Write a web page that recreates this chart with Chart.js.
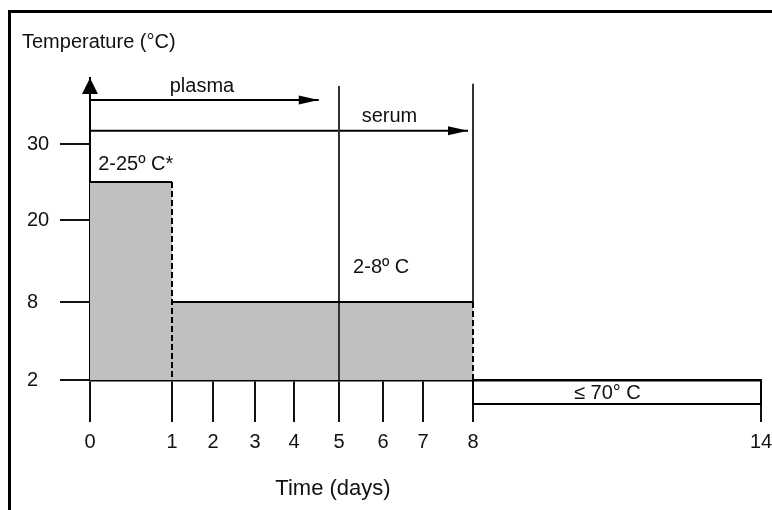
<!DOCTYPE html>
<html>
<head>
<meta charset="utf-8">
<title>Sample storage temperature</title>
<script src="https://cdn.jsdelivr.net/npm/chart.js@4.4.1/dist/chart.umd.min.js"></script>
<style>
  html, body { margin: 0; padding: 0; background: #fff; overflow: hidden; }
  #wrap { position: relative; width: 772px; height: 510px; }
  .frame { position: absolute; left: 8px; top: 10px; width: 800px; height: 540px; border-left: 3px solid #000; border-top: 3px solid #000; }
  canvas { position: absolute; left: 0; top: 0; }
</style>
</head>
<body>
<div id="wrap">
  <div class="frame"></div>
  <canvas id="storageChart" width="772" height="510"></canvas>
</div>
<script>
// axis ticks
const dayTicks = [0, 1, 2, 3, 4, 5, 6, 7, 8, 14];
const tempTicks = [2, 8, 20, 30];

// storage windows (days, °C)
const roomDays = [0, 1];
const roomTemps = [2, 25];
const fridgeDays = [1, 8];
const fridgeTemps = [2, 8];
const freezerDays = [8, 14];
const freezerTemps = [0.15, 2]; // schematic band under the 2 °C line

// how long plasma / serum keep (days) and the level of their arrows
const plasmaDays = [0, 4.55];
const serumDays = [0, 7.9];
const plasmaLevel = 36;
const serumLevel = 31.8;
const markerDays = [5, 8];
const markerTops = [37.9, 38.2];
const markerBottoms = [2, 8];

const windowLabels = ['2-25º C*', '2-8º C', '≤ 70° C'];

// the axes of the figure are not to scale, so each axis maps its values piecewise
const axisStops = {
  x: { values: dayTicks, fractions: [0, 0.1222, 0.1833, 0.2459, 0.3040, 0.3711, 0.4367, 0.4963, 0.5708, 1] },
  y: { values: [2, 8, 20, 30, 39], fractions: [0, 0.2583, 0.5298, 0.7815, 1] }
};

class PiecewiseScale extends Chart.LinearScale {
  static id = 'piecewise';
  static defaults = {};

  getPixelForValue(value) {
    if (value === null || value === undefined || isNaN(value)) return NaN;
    const { values, fractions } = axisStops[this.id];
    let i = 0;
    while (i < values.length - 2 && value > values[i + 1]) i++;
    const t = (value - values[i]) / (values[i + 1] - values[i]);
    return this.getPixelForDecimal(fractions[i] + t * (fractions[i + 1] - fractions[i]));
  }

  getValueForPixel(pixel) {
    const d = this.getDecimalForPixel(pixel);
    const { values, fractions } = axisStops[this.id];
    let i = 0;
    while (i < fractions.length - 2 && d > fractions[i + 1]) i++;
    const t = (d - fractions[i]) / (fractions[i + 1] - fractions[i]);
    return values[i] + t * (values[i + 1] - values[i]);
  }
}
Chart.register(PiecewiseScale);

const FONT = "'Liberation Sans', Arial, Helvetica, sans-serif";
Chart.defaults.font.family = FONT;
Chart.defaults.font.size = 20;
Chart.defaults.color = '#111';

const pts = (xs, ys) => xs.map((x, i) => ({ x: x, y: ys[i] }));

// text inside the plot, placed in data units
const notes = [
  { text: 'plasma', day: 1.73, temp: 37.9, align: 'center' },
  { text: 'serum', day: 6.16, temp: 33.8, align: 'center' },
  { text: windowLabels[0], day: 0.1, temp: 27.3, align: 'left' },
  { text: windowLabels[1], day: 5.32, temp: 13.1, align: 'left' },
  { text: windowLabels[2], day: 10.8, temp: 0.95, align: 'center' }
];

function triangle(ctx, x, y, dir, len, half) {
  ctx.beginPath();
  if (dir === 'up') {
    ctx.moveTo(x, y);
    ctx.lineTo(x - half, y + len);
    ctx.lineTo(x + half, y + len);
  } else {
    ctx.moveTo(x, y);
    ctx.lineTo(x - len, y - half);
    ctx.lineTo(x - len, y + half);
  }
  ctx.closePath();
  ctx.fill();
}

const decorations = {
  id: 'decorations',
  afterDatasetsDraw(chart) {
    const { ctx, scales: { x, y } } = chart;
    ctx.save();
    ctx.fillStyle = '#000';
    triangle(ctx, x.getPixelForValue(0), y.top, 'up', 16, 8);
    chart.data.datasets.forEach((ds, i) => {
      if (!ds.arrow) return;
      const els = chart.getDatasetMeta(i).data;
      const tip = els[els.length - 1];
      triangle(ctx, tip.x, tip.y, 'right', 20, 4.5);
    });

    ctx.fillStyle = '#111';
    ctx.font = '20px ' + FONT;
    ctx.textBaseline = 'middle';
    notes.forEach(n => {
      ctx.textAlign = n.align;
      ctx.fillText(n.text, x.getPixelForValue(n.day), y.getPixelForValue(n.temp));
    });

    // axis titles
    ctx.textBaseline = 'alphabetic';
    ctx.textAlign = 'left';
    ctx.fillText('Temperature (°C)', 22, 48);
    ctx.font = '22px ' + FONT;
    ctx.textAlign = 'center';
    ctx.fillText('Time (days)', 333, 495);
    ctx.restore();
  }
};

const solid = (data, color) => ({ data: data, borderColor: color || '#000', borderWidth: 2 });
const dashed = data => ({ data: data, borderColor: '#000', borderWidth: 2, borderDash: [6, 3] });

const ctx = document.getElementById('storageChart').getContext('2d');
new Chart(ctx, {
  type: 'line',
  data: {
    datasets: [
      {
        // grey band: 2-25 °C for one day, then 2-8 °C up to day 8
        data: [
          { x: roomDays[0], y: roomTemps[0] },
          { x: roomDays[0], y: roomTemps[1] },
          { x: roomDays[1], y: roomTemps[1] },
          { x: fridgeDays[0], y: fridgeTemps[1] },
          { x: fridgeDays[1], y: fridgeTemps[1] },
          { x: fridgeDays[1], y: fridgeTemps[0] }
        ],
        fill: { value: 2 },
        backgroundColor: '#c0c0c0',
        borderWidth: 0,
        order: 10 // painted first, under the outlines
      },
      // outline of the band: solid tops, dashed ends
      solid(pts(roomDays, [roomTemps[1], roomTemps[1]])),
      solid(pts(fridgeDays, [fridgeTemps[1], fridgeTemps[1]])),
      dashed(pts([roomDays[1], roomDays[1]], [roomTemps[1], fridgeTemps[0]])),
      dashed(pts([fridgeDays[1], fridgeDays[1]], fridgeTemps)),
      // end of plasma / serum stability
      solid(pts([markerDays[0], markerDays[0]], [markerTops[0], markerBottoms[0]]), '#333'),
      solid(pts([markerDays[1], markerDays[1]], [markerTops[1], markerBottoms[1]]), '#333'),
      Object.assign(solid(pts(plasmaDays, [plasmaLevel, plasmaLevel])), { arrow: true }),
      Object.assign(solid(pts(serumDays, [serumLevel, serumLevel])), { arrow: true }),
      // frozen storage band, drawn under the axis
      Object.assign(solid(pts([freezerDays[0], freezerDays[0], freezerDays[1], freezerDays[1]],
                              [freezerTemps[1], freezerTemps[0], freezerTemps[0], freezerTemps[1]])), { clip: false })
    ]
  },
  options: {
    responsive: false,
    animation: false,
    events: [],
    elements: { point: { radius: 0 }, line: { tension: 0 } },
    layout: { padding: { top: 78, right: 11, left: 27, bottom: 0 } },
    plugins: { legend: { display: false }, tooltip: { enabled: false } },
    scales: {
      x: {
        type: 'piecewise',
        position: 'bottom',
        min: 0,
        max: 14,
        afterBuildTicks: s => { s.ticks = dayTicks.map(v => ({ value: v })); },
        afterFit: s => { s.height = 130; s.paddingLeft = 0; s.paddingRight = 0; },
        grid: { drawOnChartArea: false, tickLength: 42, color: '#111', lineWidth: 2 },
        border: { color: '#000', width: 2.5 },
        ticks: { padding: 8, autoSkip: false, maxRotation: 0, color: '#111' }
      },
      y: {
        type: 'piecewise',
        position: 'left',
        min: 2,
        max: 39,
        afterBuildTicks: s => { s.ticks = tempTicks.map(v => ({ value: v })); },
        afterFit: s => { s.width = 63; s.paddingTop = 0; s.paddingBottom = 0; },
        grid: { drawOnChartArea: false, tickLength: 30, color: '#111', lineWidth: 2 },
        border: { color: '#000', width: 2 },
        ticks: { padding: 10, crossAlign: 'far', color: '#111' }
      }
    }
  },
  plugins: [decorations]
});
</script>
</body>
</html>
